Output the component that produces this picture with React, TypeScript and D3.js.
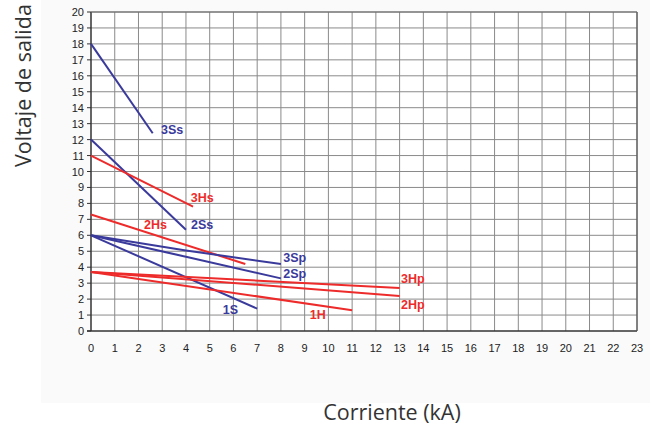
import { useEffect, useRef } from 'react';
import * as d3 from 'd3';

// Ejes
const xTicks = d3.range(0, 24);
const yTicks = d3.range(0, 21);

// Curvas: [corriente kA, voltaje V]
const curve3Ss: [number, number][] = [[0, 18], [2.6, 12.4]];
const curve2Ss: [number, number][] = [[0, 12], [4, 6.35]];
const curve3Hs: [number, number][] = [[0, 11], [4.3, 7.8]];
const curve2Hs: [number, number][] = [[0, 7.3], [6.5, 4.2]];
const curve3Sp: [number, number][] = [[0, 6], [4, 5.05], [8, 4.2]];
const curve2Sp: [number, number][] = [[0, 6], [4, 4.65], [8, 3.3]];
const curve1S: [number, number][] = [[0, 6], [7, 1.4]];
const curve3Hp: [number, number][] = [[0, 3.7], [13, 2.7]];
const curve2Hp: [number, number][] = [[0, 3.7], [13, 2.2]];
const curve1H: [number, number][] = [[0, 3.7], [11, 1.3]];

const seriesNames = ['3Ss', '2Ss', '3Hs', '2Hs', '3Sp', '2Sp', '1S', '3Hp', '2Hp', '1H'];
const seriesPoints = [curve3Ss, curve2Ss, curve3Hs, curve2Hs, curve3Sp, curve2Sp, curve1S, curve3Hp, curve2Hp, curve1H];
const seriesKind = ['S', 'S', 'H', 'H', 'S', 'S', 'S', 'H', 'H', 'H'];
// posicion de la etiqueta (kA, V)
const labelAt: [number, number][] = [
  [2.95, 12.35], [4.21, 6.4], [4.2, 8.1], [2.23, 6.4], [8.1, 4.35],
  [8.1, 3.3], [5.55, 1.05], [13.06, 3.0], [13.06, 1.38], [9.22, 0.75],
];

const BLUE = '#3a3a9c';
const RED = '#ee2b2b';

export default function App() {
  const svgRef = useRef<SVGSVGElement>(null);

  useEffect(() => {
    if (!svgRef.current) return;
    const svg = d3.select(svgRef.current);
    svg.selectAll('*').remove();

    const x = d3.scaleLinear().domain([0, 23]).range([91, 637]);
    const y = d3.scaleLinear().domain([0, 20]).range([331, 12]);

    // panel de fondo
    svg.append('rect')
      .attr('x', 41).attr('y', 0).attr('width', 609).attr('height', 403)
      .attr('fill', '#fafafa');
    svg.append('rect')
      .attr('x', x(0)).attr('y', y(20))
      .attr('width', x(23) - x(0)).attr('height', y(0) - y(20))
      .attr('fill', '#fff');

    const grid = svg.append('g').attr('stroke', '#8a8a8a').attr('stroke-width', 1);
    grid.selectAll('line.v').data(xTicks.slice(1))
      .enter().append('line')
      .attr('x1', d => x(d)).attr('x2', d => x(d))
      .attr('y1', y(0)).attr('y2', y(20));
    grid.selectAll('line.h').data(yTicks.slice(1))
      .enter().append('line')
      .attr('x1', x(0)).attr('x2', x(23))
      .attr('y1', d => y(d)).attr('y2', d => y(d));

    // ejes
    svg.append('line')
      .attr('x1', x(0)).attr('x2', x(0)).attr('y1', y(0)).attr('y2', y(20))
      .attr('stroke', '#333').attr('stroke-width', 1.5);
    svg.append('line')
      .attr('x1', x(0) - 4).attr('x2', x(23)).attr('y1', y(0)).attr('y2', y(0))
      .attr('stroke', '#333').attr('stroke-width', 1.5);
    svg.append('line')
      .attr('x1', x(23)).attr('x2', x(23)).attr('y1', y(0)).attr('y2', y(20))
      .attr('stroke', '#555').attr('stroke-width', 1.2);
    svg.append('line')
      .attr('x1', x(0)).attr('x2', x(23)).attr('y1', y(20)).attr('y2', y(20))
      .attr('stroke', '#666').attr('stroke-width', 1.2);

    svg.selectAll('line.ytick').data(yTicks)
      .enter().append('line')
      .attr('x1', x(0) - 4).attr('x2', x(0))
      .attr('y1', d => y(d)).attr('y2', d => y(d))
      .attr('stroke', '#333');

    const tickFont = 'Liberation Sans, Arial, sans-serif';
    svg.selectAll('text.ytick').data(yTicks)
      .enter().append('text')
      .attr('x', x(0) - 7).attr('y', d => y(d) + 4)
      .attr('text-anchor', 'end')
      .attr('font-family', tickFont).attr('font-size', 11)
      .attr('fill', '#222')
      .text(d => d);
    svg.selectAll('text.xtick').data(xTicks)
      .enter().append('text')
      .attr('x', d => x(d)).attr('y', 352)
      .attr('text-anchor', 'middle')
      .attr('font-family', tickFont).attr('font-size', 11)
      .attr('fill', '#222')
      .text(d => d);

    // curvas
    const line = d3.line<[number, number]>().x(d => x(d[0])).y(d => y(d[1]));
    seriesPoints.forEach((pts, i) => {
      svg.append('path')
        .attr('d', line(pts))
        .attr('fill', 'none')
        .attr('stroke', seriesKind[i] === 'S' ? BLUE : RED)
        .attr('stroke-width', 2);
    });
    seriesNames.forEach((name, i) => {
      svg.append('text')
        .attr('x', x(labelAt[i][0])).attr('y', y(labelAt[i][1]))
        .attr('font-family', tickFont).attr('font-size', 12.5)
        .attr('font-weight', 'bold')
        .attr('fill', seriesKind[i] === 'S' ? BLUE : RED)
        .text(name);
    });

    // titulos (el del eje Y queda recortado por arriba, como en el original)
    const titleFont = 'Open Sans, Noto Sans, sans-serif';
    svg.append('text')
      .attr('transform', 'translate(31,167) rotate(-90)')
      .attr('font-family', titleFont).attr('font-size', 21.5)
      .attr('fill', '#333')
      .text('Voltaje de salida (V)');
    svg.append('text')
      .attr('x', 392).attr('y', 420)
      .attr('text-anchor', 'middle')
      .attr('font-family', titleFont).attr('font-size', 21.5)
      .attr('fill', '#333')
      .text('Corriente (kA)');
  }, []);

  return (
    <svg
      ref={svgRef}
      width={651}
      height={425}
      style={{ position: 'absolute', left: 0, top: 0, background: '#fff' }}
    />
  );
}
